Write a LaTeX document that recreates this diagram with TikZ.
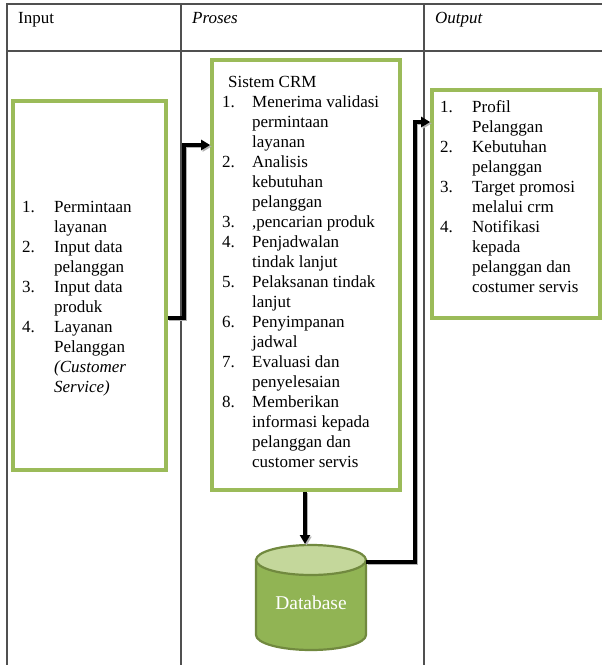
\documentclass[tikz,border=0pt]{standalone}
\usepackage{fontspec}
\setmainfont{Liberation Serif}
\usetikzlibrary{arrows.meta,calc}
\definecolor{boxgreen}{RGB}{155,187,89}
\definecolor{dbbody}{RGB}{145,180,84}
\definecolor{dbtopc}{RGB}{196,215,155}
\definecolor{dbedge}{RGB}{113,137,63}
\definecolor{tline}{RGB}{80,80,80}
\begin{document}
\begin{tikzpicture}[x=1pt,y=-1pt,
  greenbox/.style={draw=boxgreen,line width=3.6pt,rectangle,inner sep=0pt},
  tableline/.style={draw=tline,line width=1.4pt},
  listtext/.style={anchor=base west,inner sep=0pt,align=left,font=\fontsize{17}{20}\selectfont},
  headtext/.style={anchor=base west,inner sep=0pt,font=\fontsize{17}{20}\selectfont},
  conn/.style={draw=black,line width=3.4pt,-{Triangle[length=9pt,width=10pt]},
    preaction={draw=black!30,line width=3.4pt,transform canvas={shift={(1.5,1.5)}}}},
]
\useasboundingbox (0,0) rectangle (602,665);
% table
\draw[tableline] (7,665) -- (7,4) -- (602,4);
\draw[tableline] (7,51) -- (602,51);
\draw[tableline] (181,4) -- (181,665);
\draw[tableline] (424,4) -- (424,665);
\node[headtext] (hin) at (18,23) {Input};
\node[headtext] (hpro) at (192,23) {\itshape Proses};
\node[headtext] (hout) at (435,23) {\itshape Output};
% boxes
\node[greenbox,minimum width=153pt,minimum height=369pt] (inbox) at (89.5,285.5) {};
\node[greenbox,minimum width=188pt,minimum height=430pt] (probox) at (306,275) {};
\node[greenbox,minimum width=168pt,minimum height=228pt] (outbox) at (516,204) {};
% texts
\node[listtext] (intext) at (22,212) {\begin{tabular}[t]{@{}p{32pt}@{}l@{}}
1. & Permintaan\\
   & layanan\\
2. & Input data\\
   & pelanggan\\
3. & Input data\\
   & produk\\
4. & Layanan\\
   & Pelanggan\\
   & \textit{(Customer}\\
   & \textit{Service)}
\end{tabular}};
\node[listtext] (protext) at (222,87) {\begin{tabular}[t]{@{}p{30pt}@{}l@{}}
\multicolumn{2}{@{}l@{}}{\hspace{6pt}Sistem CRM}\\
1. & Menerima validasi\\
   & permintaan\\
   & layanan\\
2. & Analisis\\
   & kebutuhan\\
   & pelanggan\\
3. & ,pencarian produk\\
4. & Penjadwalan\\
   & tindak lanjut\\
5. & Pelaksanan tindak\\
   & lanjut\\
6. & Penyimpanan\\
   & jadwal\\
7. & Evaluasi dan\\
   & penyelesaian\\
8. & Memberikan\\
   & informasi kepada\\
   & pelanggan dan\\
   & customer servis
\end{tabular}};
\node[listtext] (outtext) at (440,112) {\begin{tabular}[t]{@{}p{32pt}@{}l@{}}
1. & Profil\\
   & Pelanggan\\
2. & Kebutuhan\\
   & pelanggan\\
3. & Target promosi\\
   & melalui crm\\
4. & Notifikasi\\
   & kepada\\
   & pelanggan dan\\
   & costumer servis
\end{tabular}};
% database cylinder
\fill[dbbody,draw=dbedge,line width=2.2pt] (256,560) -- (256,635)
  arc[start angle=180,end angle=0,x radius=55,y radius=15] -- (366,560) -- cycle;
\filldraw[fill=dbtopc,draw=dbedge,line width=2.2pt] (311,560) ellipse [x radius=55,y radius=15];
\node[text=white,font=\fontsize{19.5}{22}\selectfont,inner sep=0pt] (db) at (311,603) {Database};
\coordinate (dbtop) at (305,544);
\coordinate (dbright) at (366,562);
% connectors
\draw[conn] (inbox.east |- 0,318) -- (184,318) -- (184,145) -- (probox.west |- 0,145);
\draw[conn] (probox.south -| dbtop) -- (dbtop);
\draw[conn] (dbright) -- (415,562) -- (415,122) -- (outbox.west |- 0,122);
\end{tikzpicture}
\end{document}
